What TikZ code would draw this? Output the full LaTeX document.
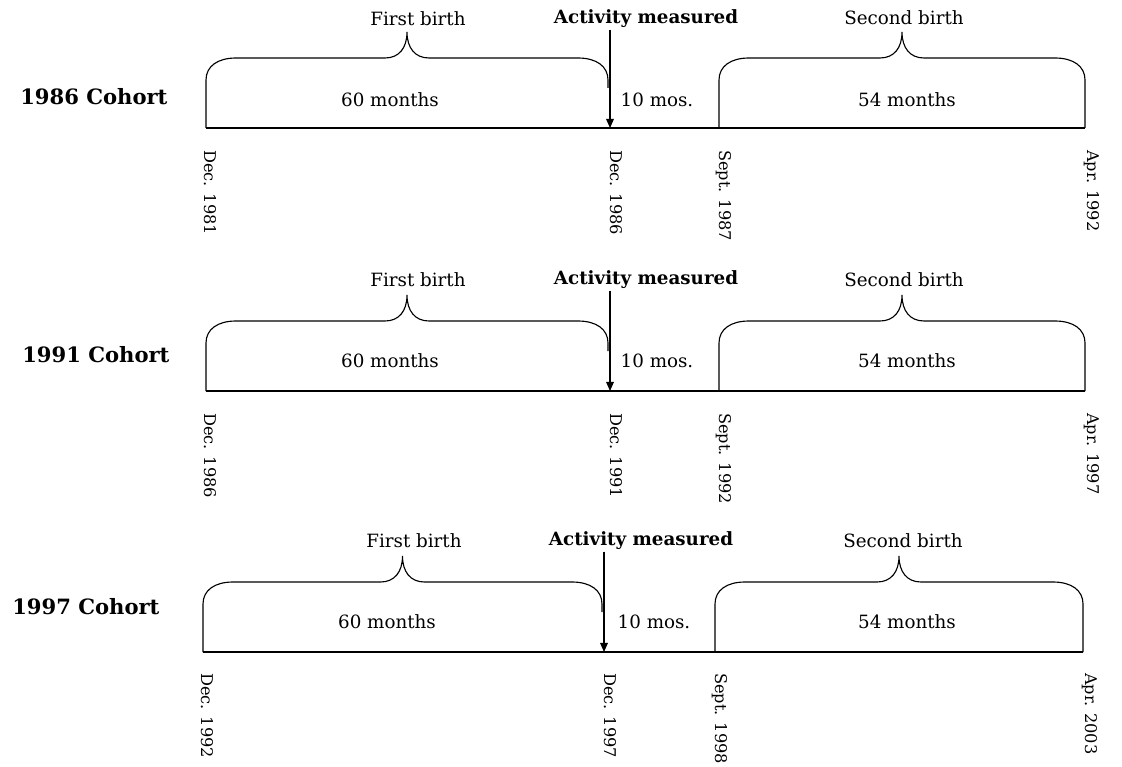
\documentclass[tikz,border=0pt]{standalone}
\usepackage{fontspec}
\setmainfont{DejaVu Serif}
\usepackage{tikz}
\usetikzlibrary{arrows.meta, positioning}

\tikzset{
    bracket/.style={draw=black, line width=0.8pt},
    timeline/.style={draw=black, line width=0.8pt},
    measure/.style={draw=black, line width=0.8pt, -{Triangle[length=6.5pt,width=5.5pt]}},
    toplabel/.style={inner sep=1pt, font=\fontsize{13}{15}\selectfont},
    actlabel/.style={inner sep=1pt, font=\fontsize{13}{15}\selectfont\bfseries},
    spanlabel/.style={inner sep=1pt, font=\fontsize{13}{15}\selectfont},
    cohortlabel/.style={anchor=west, inner sep=0pt, font=\fontsize{15}{17}\selectfont\bfseries},
    datelabel/.style={rotate=-90, anchor=base west, inner sep=0pt, font=\fontsize{11.5}{13}\selectfont}
}

% brace over one span: left x, right x, end of right leg
\newcommand{\birthbrace}[3]{%
    \pgfmathsetmacro\bmid{(#1+#2)/2}
    \draw[bracket] (#1,0) -- (#1,-48)
        .. controls (#1,-62) and ({#1+12},-70) .. ({#1+30},-70)
        -- ({\bmid-22},-70)
        .. controls ({\bmid-8},-70) and (\bmid,-80) .. (\bmid,-96)
        .. controls (\bmid,-80) and ({\bmid+8},-70) .. ({\bmid+22},-70)
        -- ({#2-30},-70)
        .. controls ({#2-12},-70) and (#2,-62) .. (#2,-48) -- (#2,#3);
}

\begin{document}
\begin{tikzpicture}[x=0.025cm, y=-0.025cm]
\useasboundingbox (0,0) rectangle (1122,767);

% 1986 cohort
\begin{scope}[shift={(0,128)}]
\coordinate (s1) at (206,0);
\coordinate (m1) at (610,0);
\coordinate (n1) at (719,0);
\coordinate (e1) at (1085,0);
\draw[timeline] (s1) -- (e1);
\birthbrace{206}{608}{-40}
\birthbrace{719}{1085}{0}
\node[cohortlabel] (cohort1) at (20,-31) {1986 Cohort};
\node[toplabel] (first1) at (418,-109) {First birth};
\node[actlabel] (act1) at (646,-109) {Activity measured};
\node[toplabel] (second1) at (904,-110) {Second birth};
\node[spanlabel] (sixty1) at (390,-28) {60 months};
\node[spanlabel] (ten1) at (657,-28) {10 mos.};
\node[spanlabel] (fiftyfour1) at (907,-28) {54 months};
\draw[measure] (act1.south -| m1) -- (m1);
\node[datelabel] (ds1) at ([shift={(-2,22)}]s1) {Dec. 1981};
\node[datelabel] (dm1) at ([shift={(0,22)}]m1) {Dec. 1986};
\node[datelabel] (dn1) at ([shift={(0,22)}]n1) {Sept. 1987};
\node[datelabel] (de1) at ([shift={(2,22)}]e1) {Apr. 1992};
\end{scope}

% 1991 cohort
\begin{scope}[shift={(0,391)}]
\coordinate (s2) at (206,0);
\coordinate (m2) at (610,0);
\coordinate (n2) at (719,0);
\coordinate (e2) at (1085,0);
\draw[timeline] (s2) -- (e2);
\birthbrace{206}{608}{-40}
\birthbrace{719}{1085}{0}
\node[cohortlabel] (cohort2) at (22,-36) {1991 Cohort};
\node[toplabel] (first2) at (418,-111) {First birth};
\node[actlabel] (act2) at (646,-111) {Activity measured};
\node[toplabel] (second2) at (904,-111) {Second birth};
\node[spanlabel] (sixty2) at (390,-30) {60 months};
\node[spanlabel] (ten2) at (657,-30) {10 mos.};
\node[spanlabel] (fiftyfour2) at (907,-30) {54 months};
\draw[measure] (act2.south -| m2) -- (m2);
\node[datelabel] (ds2) at ([shift={(-2,22)}]s2) {Dec. 1986};
\node[datelabel] (dm2) at ([shift={(0,22)}]m2) {Dec. 1991};
\node[datelabel] (dn2) at ([shift={(0,22)}]n2) {Sept. 1992};
\node[datelabel] (de2) at ([shift={(2,22)}]e2) {Apr. 1997};
\end{scope}

% 1997 cohort
\begin{scope}[shift={(-3,652)}]
\coordinate (s3) at (206,0);
\coordinate (m3) at (607,0);
\coordinate (n3) at (718,0);
\coordinate (e3) at (1086,0);
\draw[timeline] (s3) -- (e3);
\birthbrace{206}{605}{-40}
\birthbrace{718}{1086}{0}
\node[cohortlabel] (cohort3) at (15,-45) {1997 Cohort};
\node[toplabel] (first3) at (417,-111) {First birth};
\node[actlabel] (act3) at (644,-111) {Activity measured};
\node[toplabel] (second3) at (906,-111) {Second birth};
\node[spanlabel] (sixty3) at (390,-30) {60 months};
\node[spanlabel] (ten3) at (657,-30) {10 mos.};
\node[spanlabel] (fiftyfour3) at (910,-30) {54 months};
\draw[measure] (act3.south -| m3) -- (m3);
\node[datelabel] (ds3) at ([shift={(-2,21)}]s3) {Dec. 1992};
\node[datelabel] (dm3) at ([shift={(0,21)}]m3) {Dec. 1997};
\node[datelabel] (dn3) at ([shift={(0,21)}]n3) {Sept. 1998};
\node[datelabel] (de3) at ([shift={(2,21)}]e3) {Apr. 2003};
\end{scope}
\end{tikzpicture}
\end{document}
